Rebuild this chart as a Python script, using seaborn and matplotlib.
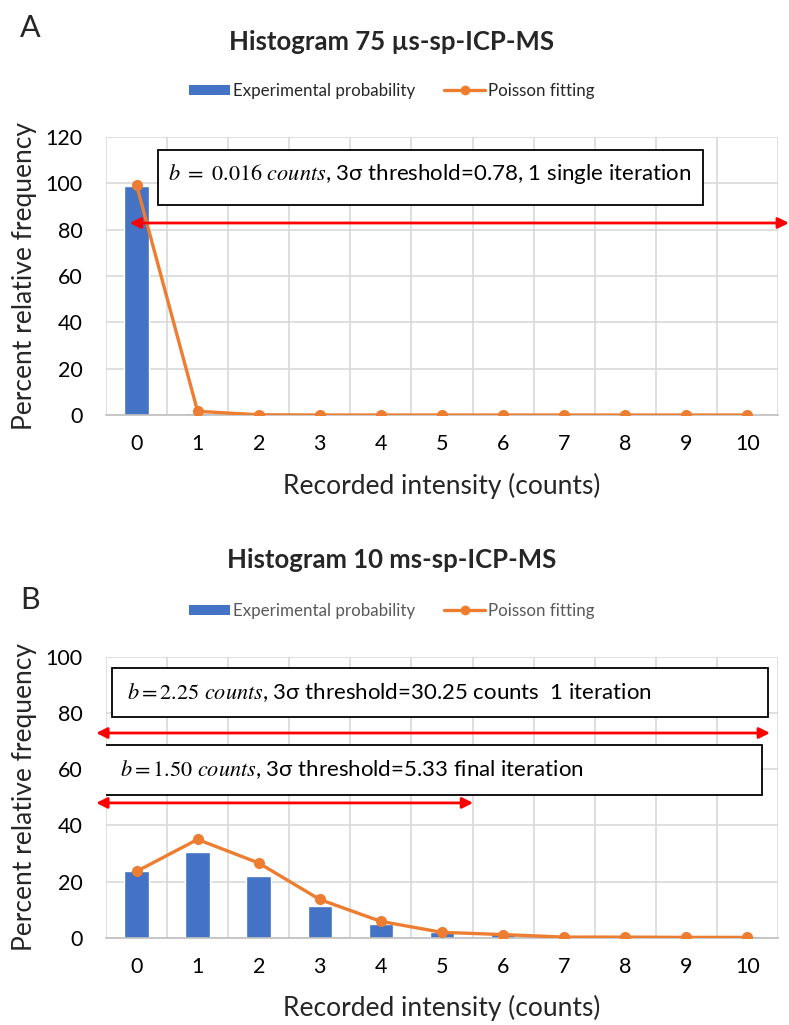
import matplotlib
matplotlib.use("Agg")
import matplotlib.pyplot as plt
import seaborn as sns
from matplotlib.patches import Rectangle, Patch
from matplotlib.lines import Line2D

# ---------------- data ----------------
counts = [0, 1, 2, 3, 4, 5, 6, 7, 8, 9, 10]

exp_a = [99.0, 0.9, 0.3, 0.3, 0.3, 0.3, 0.3, 0.3, 0.3, 0.3, 0.3]
poi_a = [99.4, 1.6, 0.1, 0.0, 0.0, 0.0, 0.0, 0.0, 0.0, 0.0, 0.0]

exp_b = [23.6, 30.5, 22.0, 11.3, 5.0, 1.9, 1.3, 0.5, 0.5, 0.5, 0.5]
poi_b = [23.6, 35.0, 26.6, 13.6, 5.8, 1.9, 1.1, 0.2, 0.2, 0.1, 0.1]

yticks_a = [0, 20, 40, 60, 80, 100, 120]
yticks_b = [0, 20, 40, 60, 80, 100]

title_a = "Histogram 75 µs-sp-ICP-MS"
title_b = "Histogram 10 ms-sp-ICP-MS"
leg_bar = "Experimental probability"
leg_line = "Poisson fitting"
xlabel = "Recorded intensity (counts)"
ylabel = "Percent relative frequency"

BAR = "#4472C4"
LINE = "#ED7D31"
GRID = "#D9D9D9"

sns.set_theme(style="white")
plt.rcParams["font.family"] = ["Lato", "DejaVu Sans"]
plt.rcParams["mathtext.fontset"] = "stix"

fig = plt.figure(figsize=(7.89, 10.25), dpi=100)

ax_a = fig.add_axes([0.1343, 0.5951, 0.8517, 0.2712])
ax_b = fig.add_axes([0.1343, 0.0852, 0.8517, 0.2739])


def style_axis(ax, exp, poi, yticks):
    sns.barplot(x=counts, y=exp, ax=ax, color=BAR, width=0.4, saturation=1,
                native_scale=True, zorder=2)
    sns.lineplot(x=counts, y=poi, ax=ax, color=LINE, marker="o", markersize=8,
                 markeredgewidth=0, linewidth=2.4, zorder=3)
    ax.set_xlim(-0.5, 10.5)
    ax.set_ylim(0, yticks[-1])
    ax.set_xticks(counts)
    ax.set_xticklabels([str(c) for c in counts])
    ax.set_xticks([c - 0.5 for c in counts] + [10.5], minor=True)
    ax.set_yticks(yticks)
    ax.set_yticklabels([str(v) for v in yticks])
    ax.grid(True, which="minor", axis="x", color=GRID, lw=1.2, zorder=0)
    ax.grid(True, which="major", axis="y", color=GRID, lw=1.2, zorder=0)
    ax.grid(False, which="major", axis="x")
    ax.set_axisbelow(True)
    for s in ["top", "right", "left"]:
        ax.spines[s].set_visible(False)
    ax.spines["bottom"].set_color("#BFBFBF")
    ax.spines["bottom"].set_linewidth(1.2)
    ax.tick_params(axis="both", which="both", length=0, labelsize=15.5,
                   labelcolor="#000000")
    ax.tick_params(axis="x", pad=14)
    ax.tick_params(axis="y", pad=17)
    ax.set_xlabel(xlabel, fontsize=19, labelpad=13)
    ax.set_ylabel(ylabel, fontsize=19, labelpad=6)


style_axis(ax_a, exp_a, poi_a, yticks_a)
style_axis(ax_b, exp_b, poi_b, yticks_b)


def arrow(ax, x0, x1, y):
    ax.annotate("", xy=(x1, y), xytext=(x0, y),
                arrowprops=dict(arrowstyle="<|-|>", color="#FF0000", lw=2,
                                mutation_scale=16, shrinkA=0, shrinkB=0),
                annotation_clip=False, zorder=6)


def box(ax, x0, x1, y0, y1, tx, ty, text):
    ax.add_patch(Rectangle((x0, y0), x1 - x0, y1 - y0, fill=True,
                           facecolor="white", edgecolor="black", lw=1.3,
                           zorder=5))
    ax.text(tx, ty, text, fontsize=16, va="center", ha="left", zorder=6,
            color="#000000")


# Panel A annotations
box(ax_a, 0.35, 9.27, 90.6, 114.4, 0.51, 104.0,
    r"$b\ =\ 0.016\ counts$, 3σ threshold=0.78, 1 single iteration")
arrow(ax_a, -0.11, 10.68, 82.9)

# Panel B annotations
box(ax_b, -0.40, 10.34, 78.6, 96.1, -0.16, 87.3,
    r"$b{=}2.25\ counts$, 3σ threshold=30.25 counts  1 iteration")
arrow(ax_b, -0.66, 10.37, 72.9)
box(ax_b, -0.53, 10.24, 50.8, 68.6, -0.27, 59.8,
    r"$b{=}1.50\ counts$, 3σ threshold=5.33 final iteration")
arrow(ax_b, -0.66, 5.51, 48.0)

# titles, panel letters
fig.text(392 / 789, 1 - 42 / 1025, title_a, ha="center", va="center",
         fontsize=18.5, fontweight="bold")
fig.text(392 / 789, 1 - 560 / 1025, title_b, ha="center", va="center",
         fontsize=18.5, fontweight="bold")
fig.text(30 / 789, 1 - 28 / 1025, "A", ha="center", va="center", fontsize=22)
fig.text(30 / 789, 1 - 600 / 1025, "B", ha="center", va="center", fontsize=22)

# legends
handles = [Patch(facecolor=BAR, edgecolor="none"),
           Line2D([0], [0], color=LINE, lw=2.4, marker="o", markersize=7,
                  markeredgewidth=0)]
for y_px, col in [(91, "#262626"), (611, "#595959")]:
    leg = fig.legend(handles, [leg_bar, leg_line], loc="center",
                     bbox_to_anchor=(392 / 789, 1 - y_px / 1025), ncol=2,
                     frameon=False, fontsize=12.2, handlelength=2.4,
                     handleheight=0.55, columnspacing=1.7, handletextpad=0.2)
    for t in leg.get_texts():
        t.set_color(col)

fig.savefig("out.png", dpi=100)
